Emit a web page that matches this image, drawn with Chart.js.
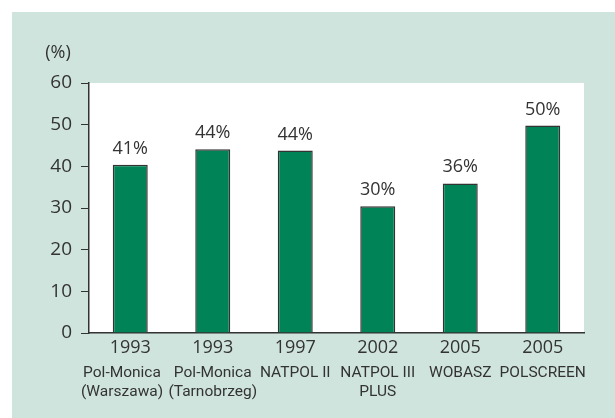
<!DOCTYPE html>
<html>
<head>
<meta charset="utf-8">
<script src="https://cdn.jsdelivr.net/npm/chart.js@4"></script>
<style>
  html, body { margin: 0; padding: 0; background: #ffffff; }
  #wrap { width: 615px; height: 418px; }
</style>
</head>
<body>
<div id="wrap"><canvas id="myChart" width="615" height="418"></canvas></div>
<script>
// data
const years = ["1993", "1993", "1997", "2002", "2005", "2005"];
const studies = [
  ["Pol-Monica", "(Warszawa)"],
  ["Pol-Monica", "(Tarnobrzeg)"],
  ["NATPOL II"],
  ["NATPOL III", "PLUS"],
  ["WOBASZ"],
  ["POLSCREEN"]
];
const values = [40.4, 44.1, 43.8, 30.4, 35.9, 49.8];
const valueLabels = ["41%", "44%", "44%", "30%", "36%", "50%"];
const yTicks = [0, 10, 20, 30, 40, 50, 60];

const textColor = "#333333";
const fontFamily = "'Open Sans', 'Noto Sans', sans-serif";
const narrowFont = "Roboto, 'Open Sans', sans-serif";

// backgrounds: green panel and white plot area
const panelPlugin = {
  id: "panel",
  beforeDraw(chart) {
    const { ctx, chartArea } = chart;
    ctx.save();
    ctx.fillStyle = "#cfe4dc";
    ctx.fillRect(12, 12, chart.width - 12, chart.height - 12);
    ctx.fillStyle = "#ffffff";
    ctx.fillRect(chartArea.left, chartArea.top, chartArea.right - chartArea.left, chartArea.bottom - chartArea.top);
    ctx.restore();
  },
  afterDraw(chart) {
    const ctx = chart.ctx;
    ctx.save();
    ctx.fillStyle = textColor;
    ctx.font = "18px " + fontFamily;
    ctx.textAlign = "center";
    ctx.textBaseline = "middle";
    ctx.fillText("(%)", 58, 53);
    ctx.restore();
  }
};

// percentage labels above bars
const valueLabelPlugin = {
  id: "valueLabels",
  afterDatasetsDraw(chart) {
    const ctx = chart.ctx;
    const meta = chart.getDatasetMeta(0);
    ctx.save();
    ctx.fillStyle = textColor;
    ctx.font = "18px " + fontFamily;
    ctx.textAlign = "center";
    ctx.textBaseline = "alphabetic";
    meta.data.forEach((bar, i) => {
      ctx.fillText(valueLabels[i], bar.x, bar.y - 11);
    });
    ctx.restore();
  }
};

const ctx = document.getElementById("myChart");

new Chart(ctx, {
  type: "bar",
  data: {
    labels: years,
    datasets: [
      {
        data: values,
        backgroundColor: "#008457",
        borderColor: "#333333",
        borderWidth: 1.5,
        borderSkipped: "bottom",
        barPercentage: 0.424,
        categoryPercentage: 1.0,
      },
    ],
  },
  options: {
    responsive: false,
    animation: false,
    layout: {
      padding: { top: 83, right: 31, left: 0, bottom: 9 },
    },
    plugins: {
      legend: { display: false },
      tooltip: { enabled: false },
    },
    scales: {
      y: {
        min: 0,
        max: 60,
        afterFit: (s) => { s.width = 89; },
        afterBuildTicks: (s) => { s.ticks = yTicks.map((v) => ({ value: v })); },
        ticks: {
          color: textColor,
          font: { family: fontFamily, size: 19 },
          padding: 9,
        },
        grid: {
          drawOnChartArea: false,
          drawTicks: true,
          tickLength: 8,
          color: "#333333",
          lineWidth: 1,
        },
        border: { display: true, color: "#333333", width: 1.5 },
      },
      x: {
        afterFit: (s) => { s.height = 26; },
        ticks: {
          color: textColor,
          font: { family: fontFamily, size: 18 },
          padding: 4,
          maxRotation: 0,
          autoSkip: false,
        },
        grid: { display: false, drawTicks: false },
        border: { display: true, color: "#333333", width: 1.5 },
      },
      // study names; first one nudged left so the two Pol-Monica labels don't touch
      x2: {
        type: "linear",
        position: "bottom",
        offset: false,
        min: -0.5,
        max: 5.5,
        afterFit: (s) => { s.height = 50; },
        afterBuildTicks: (s) => {
          s.ticks = studies.map((_, i) => ({ value: i === 0 ? i - 0.1 : i }));
        },
        ticks: {
          color: textColor,
          font: { family: narrowFont, size: 15.5, lineHeight: 1.2 },
          padding: 5,
          maxRotation: 0,
          autoSkip: false,
          callback: (value, index) => studies[index],
        },
        grid: { display: false, drawTicks: false, offset: false },
        border: { display: false },
      },
    },
  },
  plugins: [panelPlugin, valueLabelPlugin],
});
</script>
</body>
</html>
